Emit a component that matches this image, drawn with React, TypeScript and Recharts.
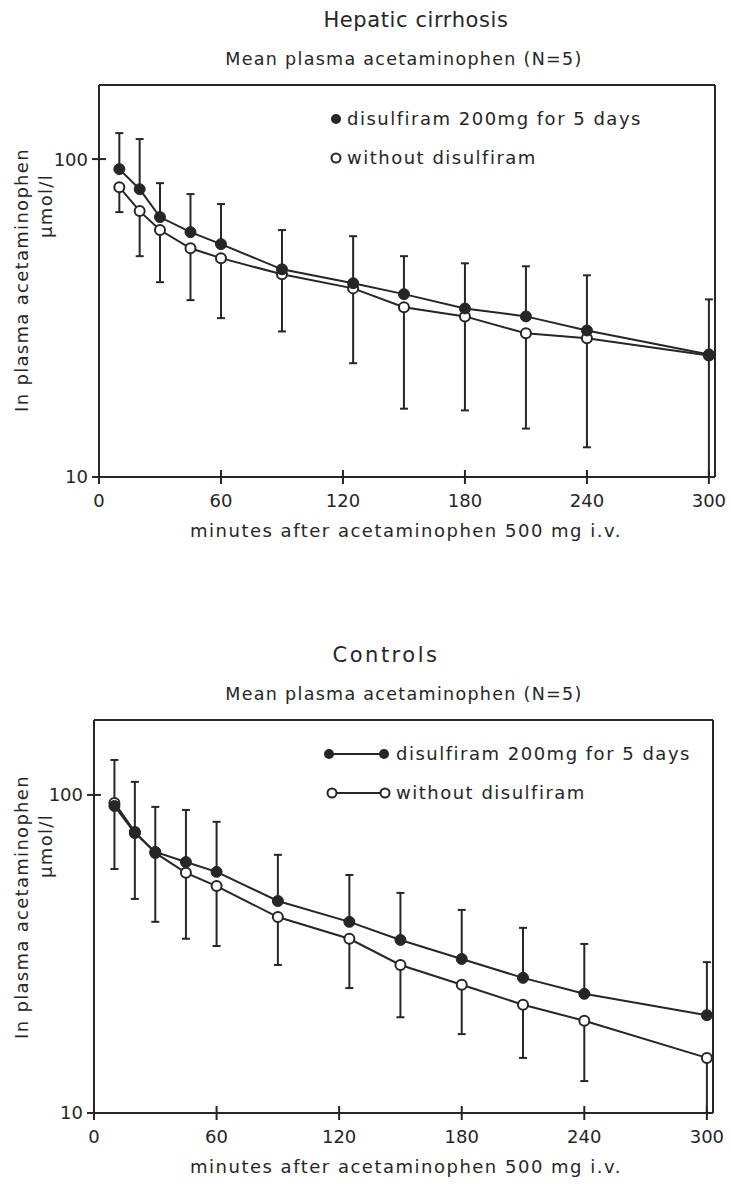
import React from 'react'
import { LineChart, Line, XAxis, YAxis, ErrorBar, ReferenceLine } from 'recharts'

const TIMES = [10, 20, 30, 45, 60, 90, 125, 150, 180, 210, 240, 300]
const X_TICKS = [0, 60, 120, 180, 240, 300]
const Y_TICKS = [10, 100]

// Hepatic cirrhosis: means, plus the whisker ends (+SD above disulfiram, -SD below without)
const CIRR_DISULFIRAM = [93, 80.4, 65.7, 58.9, 54, 45, 40.7, 37.6, 33.9, 32, 28.9, 24.3]
const CIRR_DISULFIRAM_HI = [120.7, 115.6, 84, 77.6, 72.2, 59.8, 57.2, 49.5, 47, 46, 43.1, 36.2]
const CIRR_WITHOUT = [81.6, 68.6, 59.8, 52.4, 48.8, 43.4, 39.2, 34.2, 32, 28.3, 27.3, 24.1]
const CIRR_WITHOUT_LO = [68.1, 49.5, 41, 36, 31.6, 28.7, 22.8, 16.4, 16.2, 14.2, 12.4, 10]

// Controls
const CTRL_DISULFIRAM = [92.3, 75.9, 66.2, 61.5, 57.3, 46.4, 39.9, 35, 30.5, 26.6, 23.7, 20.3]
const CTRL_DISULFIRAM_HI = [128.8, 109.9, 91.7, 89.7, 82.3, 64.8, 56, 49.2, 43.5, 38.2, 34, 29.8]
const CTRL_WITHOUT = [94.4, 76.5, 65.7, 56.9, 51.7, 41.3, 35.3, 29.2, 25.3, 21.9, 19.5, 14.9]
const CTRL_WITHOUT_LO = [58.5, 47.1, 39.9, 35.3, 33.5, 29.2, 24.7, 20, 17.7, 14.9, 12.6, 10]

const INK = '#262626'
const FONT = '"DejaVu Sans", sans-serif'
const X_MAX = 303

function buildRows(dis: number[], disHi: number[], wo: number[], woLo: number[]) {
  return TIMES.map((t, i) => ({
    t,
    dis: dis[i],
    disErr: [0, disHi[i] - dis[i]],
    wo: wo[i],
    woErr: [wo[i] - woLo[i], 0],
  }))
}

const XTick = (props: any) => {
  const { x, y, payload } = props
  return (
    <g>
      <line x1={x} x2={x} y1={y - 7} y2={y + 7} stroke={INK} strokeWidth={2} />
      <text x={x} y={y + 30} textAnchor="middle" fontSize={18} fill={INK} fontFamily={FONT}>
        {payload.value}
      </text>
    </g>
  )
}

const YTick = (props: any) => {
  const { x, y, payload } = props
  return (
    <g>
      <line x1={x - 7} x2={x + 7} y1={y} y2={y} stroke={INK} strokeWidth={2} />
      <text x={x - 11} y={y} dy="0.36em" textAnchor="end" fontSize={18} fill={INK} fontFamily={FONT}>
        {payload.value}
      </text>
    </g>
  )
}

type Plot = { left: number; top: number; right: number; bottom: number }

function Panel({
  offset,
  height,
  plot,
  yMax,
  rows,
  title,
  titleX,
  titleSpacing,
  labelY,
  muY,
  legendLines,
}: {
  offset: number
  height: number
  plot: Plot
  yMax: number
  rows: ReturnType<typeof buildRows>
  title: string
  titleX: number
  titleSpacing: number
  labelY: number
  muY: number
  legendLines: boolean
}) {
  const txt = { fontFamily: FONT, fill: INK, letterSpacing: 1.3 }
  const lg1 = plot.top + 34
  const lg2 = plot.top + 73
  return (
    <div style={{ position: 'absolute', left: 0, top: offset, width: 731, height }}>
      <LineChart
        width={731}
        height={height}
        data={rows}
        margin={{ top: plot.top, right: 731 - plot.right, left: 0, bottom: 0 }}
      >
        <XAxis
          dataKey="t"
          type="number"
          domain={[0, X_MAX]}
          ticks={X_TICKS}
          allowDataOverflow
          height={height - plot.bottom}
          tickSize={0}
          tickMargin={0}
          tick={<XTick />}
          axisLine={{ stroke: INK, strokeWidth: 2 }}
        />
        <YAxis
          scale="log"
          domain={[10, yMax]}
          ticks={Y_TICKS}
          allowDataOverflow
          width={plot.left}
          tickSize={0}
          tickMargin={0}
          tick={<YTick />}
          axisLine={{ stroke: INK, strokeWidth: 2 }}
        />
        <ReferenceLine y={yMax} stroke={INK} strokeWidth={2} />
        <ReferenceLine x={X_MAX} stroke={INK} strokeWidth={2} />
        <Line dataKey="wo" stroke="none" dot={false} isAnimationActive={false}>
          <ErrorBar dataKey="woErr" direction="y" width={4} stroke={INK} strokeWidth={2} />
        </Line>
        <Line dataKey="dis" stroke="none" dot={false} isAnimationActive={false}>
          <ErrorBar dataKey="disErr" direction="y" width={4} stroke={INK} strokeWidth={2} />
        </Line>
        <Line
          dataKey="wo"
          stroke={INK}
          strokeWidth={2}
          isAnimationActive={false}
          dot={{ r: 5, fill: '#fff', stroke: INK, strokeWidth: 2 }}
        />
        <Line
          dataKey="dis"
          stroke={INK}
          strokeWidth={2}
          isAnimationActive={false}
          dot={{ r: 5.5, fill: INK, stroke: INK, strokeWidth: 1 }}
        />
      </LineChart>
      <svg
        width={731}
        height={height}
        style={{ position: 'absolute', left: 0, top: 0, pointerEvents: 'none' }}
      >
        <text
          x={titleX}
          y={plot.top - 65}
          dy="0.35em"
          textAnchor="middle"
          fontSize={21}
          {...txt}
          letterSpacing={titleSpacing}
        >
          {title}
        </text>
        <text x={404} y={plot.top - 26} dy="0.35em" textAnchor="middle" fontSize={17.5} {...txt}>
          Mean plasma acetaminophen (N=5)
        </text>
        <text
          transform={`translate(22, ${labelY}) rotate(-90)`}
          dy="0.35em"
          textAnchor="middle"
          fontSize={18}
          {...txt}
        >
          In plasma acetaminophen
        </text>
        <text
          transform={`translate(46, ${muY}) rotate(-90)`}
          dy="0.35em"
          textAnchor="middle"
          fontSize={18}
          {...txt}
        >
          μmol/l
        </text>
        <text x={406} y={plot.bottom + 54} dy="0.35em" textAnchor="middle" fontSize={18} {...txt} letterSpacing={1.5}>
          minutes after acetaminophen 500 mg i.v.
        </text>
        {legendLines ? (
          <g>
            <line x1={329} x2={384} y1={lg1} y2={lg1} stroke={INK} strokeWidth={2} />
            <circle cx={329} cy={lg1} r={5} fill={INK} />
            <circle cx={384} cy={lg1} r={5} fill={INK} />
            <line x1={332} x2={385} y1={lg2} y2={lg2} stroke={INK} strokeWidth={2} />
            <circle cx={332} cy={lg2} r={4.5} fill="#fff" stroke={INK} strokeWidth={2} />
            <circle cx={385} cy={lg2} r={4.5} fill="#fff" stroke={INK} strokeWidth={2} />
            <text x={396} y={lg1} dy="0.35em" fontSize={18} {...txt} letterSpacing={1.5}>
              disulfiram 200mg for 5 days
            </text>
            <text x={396} y={lg2} dy="0.35em" fontSize={18} {...txt} letterSpacing={1.5}>
              without disulfiram
            </text>
          </g>
        ) : (
          <g>
            <circle cx={336} cy={lg1} r={5} fill={INK} />
            <circle cx={336} cy={lg2} r={4.5} fill="#fff" stroke={INK} strokeWidth={2} />
            <text x={347} y={lg1} dy="0.35em" fontSize={18} {...txt} letterSpacing={1.5}>
              disulfiram 200mg for 5 days
            </text>
            <text x={347} y={lg2} dy="0.35em" fontSize={18} {...txt} letterSpacing={1.5}>
              without disulfiram
            </text>
          </g>
        )}
      </svg>
    </div>
  )
}

export default function App() {
  const cirrhosis = buildRows(CIRR_DISULFIRAM, CIRR_DISULFIRAM_HI, CIRR_WITHOUT, CIRR_WITHOUT_LO)
  const controls = buildRows(CTRL_DISULFIRAM, CTRL_DISULFIRAM_HI, CTRL_WITHOUT, CTRL_WITHOUT_LO)
  return (
    <div
      style={{
        position: 'absolute',
        left: 0,
        top: 0,
        width: 731,
        height: 1188,
        background: '#fff',
        overflow: 'hidden',
      }}
    >
      <Panel
        offset={0}
        height={600}
        plot={{ left: 99, top: 85, right: 715, bottom: 477 }}
        yMax={171}
        rows={cirrhosis}
        title="Hepatic cirrhosis"
        titleX={416}
        titleSpacing={0.6}
        labelY={280}
        muY={206}
        legendLines={false}
      />
      <Panel
        offset={600}
        height={588}
        plot={{ left: 94, top: 120, right: 713, bottom: 513 }}
        yMax={172}
        rows={controls}
        title="Controls"
        titleX={386}
        titleSpacing={2.5}
        labelY={307}
        muY={246}
        legendLines
      />
    </div>
  )
}
